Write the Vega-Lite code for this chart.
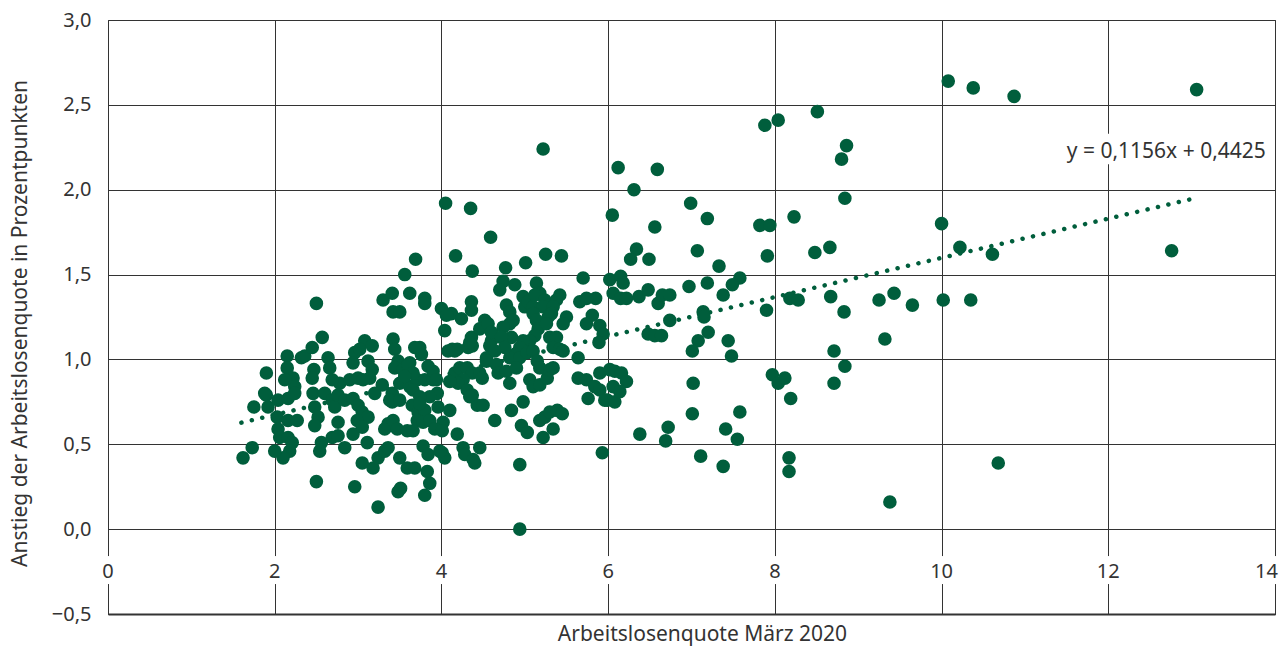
{
  "$schema": "https://vega.github.io/schema/vega-lite/v6.json",
  "width": 1167,
  "height": 594,
  "autosize": "none",
  "padding": {"left": 108, "top": 20, "right": 5, "bottom": 38},
  "background": "white",
  "config": {"font": "Noto Sans", "view": {"stroke": "#333333", "strokeWidth": 1}},
  "datasets": {
    "punkte": [
      {"x":1.62,"y":0.42},{"x":1.73,"y":0.48},{"x":1.75,"y":0.72},{"x":1.90,"y":0.92},{"x":1.90,"y":0.79},{"x":1.92,"y":0.72},{"x":1.88,"y":0.80},{"x":2.04,"y":0.76},{"x":2.03,"y":0.66},{"x":2.16,"y":0.64},{"x":2.27,"y":0.64},{"x":2.04,"y":0.59},{"x":2.06,"y":0.54},{"x":2.16,"y":0.54},{"x":2.18,"y":0.46},{"x":2.10,"y":0.42},{"x":2.00,"y":0.46},{"x":2.21,"y":0.51},{"x":2.15,"y":1.02},{"x":2.15,"y":0.95},{"x":2.32,"y":1.01},{"x":2.36,"y":1.02},{"x":2.45,"y":1.07},{"x":2.22,"y":0.89},{"x":2.24,"y":0.84},{"x":2.12,"y":0.88},{"x":2.16,"y":0.77},{"x":2.24,"y":0.80},{"x":2.47,"y":0.94},{"x":2.45,"y":0.89},{"x":2.46,"y":0.80},{"x":2.48,"y":0.72},{"x":2.52,"y":0.66},{"x":2.48,"y":0.61},{"x":2.50,"y":1.33},{"x":2.50,"y":0.28},{"x":2.57,"y":1.13},
      {"x":2.64,"y":1.01},{"x":2.66,"y":0.95},{"x":2.56,"y":0.51},{"x":2.54,"y":0.46},{"x":2.69,"y":0.54},{"x":2.76,"y":0.55},{"x":2.84,"y":0.48},{"x":2.76,"y":0.63},{"x":2.60,"y":0.80},{"x":2.69,"y":0.76},{"x":2.72,"y":0.72},{"x":2.78,"y":0.86},{"x":2.90,"y":0.88},{"x":3.00,"y":0.89},{"x":2.69,"y":0.88},{"x":2.76,"y":0.79},{"x":2.84,"y":0.76},{"x":2.94,"y":0.77},{"x":3.00,"y":0.73},{"x":3.05,"y":0.69},{"x":3.12,"y":0.66},{"x":2.96,"y":1.04},{"x":2.94,"y":0.98},{"x":3.08,"y":1.11},{"x":3.17,"y":1.08},{"x":3.12,"y":0.99},{"x":3.17,"y":0.94},{"x":3.14,"y":0.89},{"x":3.06,"y":0.88},{"x":2.99,"y":0.64},{"x":2.94,"y":0.56},{"x":3.05,"y":0.60},{"x":3.11,"y":0.51},{"x":3.05,"y":0.39},{"x":3.18,"y":0.36},{"x":3.24,"y":0.42},{"x":3.32,"y":0.46},{"x":3.36,"y":0.48},{"x":3.29,"y":0.85},{"x":3.41,"y":0.80},{"x":3.41,"y":0.75},{"x":3.30,"y":1.35},{"x":3.41,"y":1.39},{"x":3.42,"y":1.28},{"x":3.42,"y":1.12},{"x":3.44,"y":1.06},{"x":3.48,"y":0.99},{"x":2.96,"y":0.25},{"x":3.24,"y":0.13},{"x":3.48,"y":0.22},{"x":3.51,"y":0.24},{"x":3.32,"y":0.59},{"x":3.36,"y":0.62},{"x":3.02,"y":1.06},{"x":3.20,"y":0.80},
      {"x":3.44,"y":0.95},{"x":3.54,"y":0.94},{"x":3.62,"y":0.98},{"x":3.50,"y":0.86},{"x":3.62,"y":0.84},{"x":3.71,"y":0.88},{"x":3.66,"y":0.82},{"x":3.38,"y":0.76},{"x":3.50,"y":0.76},{"x":3.84,"y":0.96},{"x":3.80,"y":0.88},{"x":3.90,"y":0.88},{"x":3.95,"y":0.80},{"x":3.86,"y":0.78},{"x":3.65,"y":0.73},{"x":3.72,"y":0.69},{"x":3.80,"y":0.70},{"x":3.71,"y":0.64},{"x":3.78,"y":0.63},{"x":3.86,"y":0.64},{"x":3.96,"y":0.72},{"x":4.10,"y":0.70},{"x":4.02,"y":0.63},{"x":3.92,"y":0.59},{"x":4.01,"y":0.58},{"x":3.42,"y":0.64},{"x":3.47,"y":0.59},{"x":3.59,"y":0.58},{"x":3.66,"y":0.58},{"x":4.19,"y":0.56},{"x":3.78,"y":0.49},{"x":3.84,"y":0.44},{"x":3.50,"y":0.42},{"x":3.59,"y":0.36},{"x":3.68,"y":0.36},{"x":3.83,"y":0.34},{"x":3.86,"y":0.27},{"x":3.80,"y":0.20},{"x":4.01,"y":0.45},{"x":4.04,"y":0.42},{"x":4.26,"y":0.48},{"x":4.28,"y":0.44},{"x":4.40,"y":0.39},{"x":4.46,"y":0.48},{"x":4.16,"y":0.92},{"x":4.22,"y":0.95},{"x":4.31,"y":0.95},{"x":4.37,"y":0.92},{"x":4.26,"y":0.88},{"x":4.20,"y":0.86},{"x":4.31,"y":0.82},{"x":4.37,"y":0.79},{"x":4.43,"y":0.73},{"x":4.50,"y":0.73},{"x":4.46,"y":0.92},{"x":4.49,"y":0.89},{"x":3.90,"y":0.93},{"x":3.94,"y":0.88},{"x":3.60,"y":0.97},{"x":3.66,"y":0.92},{"x":3.56,"y":0.90},{"x":3.74,"y":0.78},{"x":3.74,"y":0.74},{"x":3.98,"y":0.46},{"x":4.10,"y":0.87},{"x":4.34,"y":0.78},{"x":4.38,"y":0.41},
      {"x":3.56,"y":1.50},{"x":3.69,"y":1.59},{"x":3.62,"y":1.39},{"x":3.80,"y":1.36},{"x":3.80,"y":1.33},{"x":3.50,"y":1.28},{"x":4.00,"y":1.30},{"x":4.12,"y":1.27},{"x":4.24,"y":1.24},{"x":4.36,"y":1.34},{"x":4.36,"y":1.29},{"x":4.04,"y":1.17},{"x":4.16,"y":1.05},{"x":4.13,"y":1.06},{"x":4.19,"y":1.06},{"x":4.37,"y":1.08},{"x":3.74,"y":1.07},{"x":3.76,"y":1.03},{"x":3.68,"y":1.07},{"x":4.05,"y":1.92},{"x":4.35,"y":1.89},{"x":4.59,"y":1.72},{"x":4.17,"y":1.61},{"x":4.37,"y":1.52},{"x":4.36,"y":1.13},{"x":4.32,"y":1.07},{"x":4.34,"y":1.10},{"x":4.52,"y":1.23},{"x":4.46,"y":1.18},{"x":4.06,"y":1.26},{"x":4.08,"y":1.05},
      {"x":4.60,"y":1.11},{"x":4.58,"y":1.08},{"x":4.56,"y":1.21},{"x":4.60,"y":1.16},{"x":4.54,"y":1.01},{"x":4.77,"y":1.54},{"x":5.01,"y":1.57},{"x":5.25,"y":1.62},{"x":5.44,"y":1.61},{"x":4.74,"y":1.46},{"x":4.88,"y":1.44},{"x":5.22,"y":2.24},{"x":4.70,"y":1.41},{"x":4.78,"y":1.32},{"x":4.82,"y":1.28},{"x":4.82,"y":1.21},{"x":4.86,"y":1.23},{"x":4.84,"y":1.13},{"x":4.98,"y":1.37},{"x":5.00,"y":1.31},{"x":5.04,"y":1.34},{"x":5.10,"y":1.31},{"x":5.14,"y":1.45},{"x":5.18,"y":1.39},{"x":5.12,"y":1.38},{"x":5.24,"y":1.35},{"x":5.22,"y":1.31},{"x":5.42,"y":1.38},{"x":5.38,"y":1.35},{"x":5.34,"y":1.31},{"x":5.32,"y":1.27},{"x":5.28,"y":1.25},{"x":5.50,"y":1.25},{"x":5.46,"y":1.21},{"x":5.10,"y":1.27},{"x":5.14,"y":1.23},{"x":5.16,"y":1.18},{"x":5.12,"y":1.14},{"x":5.06,"y":1.11},{"x":4.98,"y":1.11},{"x":4.94,"y":1.07},{"x":4.88,"y":1.03},{"x":4.82,"y":1.01},{"x":5.26,"y":1.21},{"x":5.30,"y":1.13},{"x":5.38,"y":1.13},{"x":5.34,"y":1.07},{"x":5.42,"y":1.06},{"x":5.46,"y":1.05},{"x":4.74,"y":1.19},{"x":4.72,"y":1.13},{"x":4.76,"y":1.07},{"x":4.64,"y":1.05},{"x":4.94,"y":1.01},{"x":5.03,"y":1.04},{"x":5.10,"y":1.05},{"x":5.64,"y":1.01},{"x":5.66,"y":1.34},{"x":5.70,"y":1.48},
      {"x":4.54,"y":0.99},{"x":4.66,"y":0.97},{"x":4.68,"y":0.92},{"x":4.78,"y":0.93},{"x":4.90,"y":0.95},{"x":5.15,"y":0.99},{"x":5.18,"y":0.95},{"x":5.06,"y":0.88},{"x":5.10,"y":0.84},{"x":5.18,"y":0.85},{"x":5.27,"y":0.89},{"x":5.30,"y":0.94},{"x":5.34,"y":0.95},{"x":4.82,"y":0.86},{"x":4.84,"y":0.70},{"x":4.98,"y":0.75},{"x":4.64,"y":0.64},{"x":4.96,"y":0.61},{"x":5.03,"y":0.57},{"x":5.18,"y":0.64},{"x":5.24,"y":0.66},{"x":5.30,"y":0.69},{"x":5.39,"y":0.70},{"x":5.45,"y":0.68},{"x":5.22,"y":0.54},{"x":5.34,"y":0.59},{"x":4.94,"y":0.38},{"x":4.94,"y":0.00},
      {"x":6.12,"y":2.13},{"x":6.59,"y":2.12},{"x":6.31,"y":2.00},{"x":6.05,"y":1.85},{"x":6.56,"y":1.78},{"x":6.34,"y":1.65},{"x":6.27,"y":1.59},{"x":6.49,"y":1.59},{"x":6.02,"y":1.47},{"x":6.15,"y":1.49},{"x":6.18,"y":1.45},{"x":5.85,"y":1.36},{"x":6.06,"y":1.39},{"x":6.15,"y":1.36},{"x":6.22,"y":1.36},{"x":6.37,"y":1.37},{"x":6.48,"y":1.41},{"x":6.60,"y":1.33},{"x":6.65,"y":1.38},{"x":6.74,"y":1.38},{"x":5.81,"y":1.26},{"x":5.90,"y":1.20},{"x":5.94,"y":1.15},{"x":5.89,"y":1.10},{"x":6.48,"y":1.15},{"x":6.56,"y":1.14},{"x":6.64,"y":1.14},{"x":6.74,"y":1.23},{"x":5.74,"y":1.36},{"x":5.74,"y":1.21},
      {"x":5.64,"y":0.89},{"x":5.74,"y":0.88},{"x":5.84,"y":0.84},{"x":5.76,"y":0.77},{"x":5.90,"y":0.82},{"x":5.96,"y":0.76},{"x":5.90,"y":0.92},{"x":6.02,"y":0.94},{"x":6.06,"y":0.84},{"x":5.99,"y":0.76},{"x":6.08,"y":0.75},{"x":6.08,"y":0.93},{"x":6.16,"y":0.92},{"x":6.22,"y":0.87},{"x":6.14,"y":0.81},{"x":5.93,"y":0.45},{"x":6.38,"y":0.56},{"x":6.72,"y":0.60},{"x":6.69,"y":0.52},
      {"x":6.99,"y":1.92},{"x":7.19,"y":1.83},{"x":7.07,"y":1.64},{"x":7.33,"y":1.55},{"x":7.58,"y":1.48},{"x":7.49,"y":1.44},{"x":7.19,"y":1.45},{"x":6.97,"y":1.43},{"x":7.38,"y":1.38},{"x":7.14,"y":1.28},{"x":7.15,"y":1.25},{"x":7.20,"y":1.16},{"x":7.08,"y":1.11},{"x":7.01,"y":1.05},{"x":7.44,"y":1.11},{"x":7.48,"y":1.02},{"x":7.02,"y":0.86},{"x":7.01,"y":0.68},{"x":7.58,"y":0.69},{"x":7.41,"y":0.59},{"x":7.55,"y":0.53},{"x":7.11,"y":0.43},{"x":7.38,"y":0.37},
      {"x":7.82,"y":1.79},{"x":7.94,"y":1.79},{"x":8.23,"y":1.84},{"x":7.91,"y":1.61},{"x":7.90,"y":1.29},{"x":8.18,"y":1.36},{"x":8.28,"y":1.35},{"x":7.97,"y":0.91},{"x":8.04,"y":0.86},{"x":8.12,"y":0.89},{"x":8.19,"y":0.77},{"x":8.17,"y":0.42},{"x":8.17,"y":0.34},{"x":7.88,"y":2.38},{"x":8.04,"y":2.41},{"x":8.51,"y":2.46},{"x":8.48,"y":1.63},{"x":8.66,"y":1.66},
      {"x":8.86,"y":2.26},{"x":8.80,"y":2.18},{"x":8.84,"y":1.95},{"x":8.67,"y":1.37},{"x":8.83,"y":1.28},{"x":9.25,"y":1.35},{"x":9.43,"y":1.39},{"x":9.65,"y":1.32},{"x":9.32,"y":1.12},{"x":8.71,"y":1.05},{"x":8.84,"y":0.96},{"x":8.71,"y":0.86},{"x":9.38,"y":0.16},
      {"x":10.08,"y":2.64},{"x":10.38,"y":2.60},{"x":10.87,"y":2.55},{"x":10.00,"y":1.80},{"x":10.22,"y":1.66},{"x":10.61,"y":1.62},{"x":10.02,"y":1.35},{"x":10.35,"y":1.35},{"x":10.68,"y":0.39},{"x":13.06,"y":2.59},{"x":12.76,"y":1.64}
    ],
    "trend": [{"x": 1.6, "y": 0.6275}, {"x": 13.05, "y": 1.951}],
    "ticks": [{"x": 0}, {"x": 2}, {"x": 4}, {"x": 6}, {"x": 8}, {"x": 10}, {"x": 12}, {"x": 14}]
  },
  "layer": [
    {
      "data": {"name": "trend"},
      "mark": {"type": "line", "color": "#005e3c", "strokeWidth": 4.5, "strokeDash": [0.1, 10.6], "strokeCap": "round"},
      "encoding": {
        "x": {
          "field": "x", "type": "quantitative",
          "scale": {"domain": [0, 14], "nice": false, "zero": false},
          "axis": {
            "values": [0, 2, 4, 6, 8, 10, 12, 14],
            "labels": false, "ticks": false,
            "domain": true, "domainColor": "#333333", "domainWidth": 2,
            "grid": true, "gridColor": "#333333", "gridOpacity": 1, "gridWidth": 1,
            "title": "Arbeitslosenquote März 2020",
            "titleFont": "Noto Sans", "titleFontSize": 21, "titleFontWeight": "normal", "titleColor": "#333333", "titlePadding": 9,
            "titleX": 594, "titleAlign": "center"
          }
        },
        "y": {
          "field": "y", "type": "quantitative",
          "scale": {"domain": [-0.5, 3], "nice": false, "zero": false},
          "axis": {
            "values": [-0.5, 0, 0.5, 1, 1.5, 2, 2.5, 3],
            "labelExpr": "replace(replace(format(datum.value, '.1f'), '.', ','), '-', '\u2212')",
            "labelFont": "Noto Sans", "labelFontSize": 20, "labelColor": "#333333", "labelPadding": 17,
            "ticks": false, "domain": false,
            "grid": true, "gridColor": "#333333", "gridOpacity": 1, "gridWidth": 1,
            "title": "Anstieg der Arbeitslosenquote in Prozentpunkten",
            "titleFont": "Noto Sans", "titleFontSize": 21, "titleFontWeight": "normal", "titleColor": "#333333",
            "titleX": -88, "titleY": 303, "titleBaseline": "middle"
          }
        }
      }
    },
    {
      "data": {"name": "punkte"},
      "mark": {"type": "circle", "size": 185, "color": "#005e3c", "opacity": 1},
      "encoding": {
        "x": {"field": "x", "type": "quantitative", "title": "Arbeitslosenquote März 2020"},
        "y": {"field": "y", "type": "quantitative", "title": "Anstieg der Arbeitslosenquote in Prozentpunkten"}
      }
    },
    {
      "data": {"name": "ticks"},
      "mark": {"type": "square", "size": 784, "color": "white", "opacity": 1, "filled": true},
      "encoding": {
        "x": {"field": "x", "type": "quantitative", "title": "Arbeitslosenquote März 2020"},
        "y": {"datum": -0.241}
      }
    },
    {
      "data": {"name": "ticks"},
      "transform": [{"filter": "datum.x < 14"}],
      "mark": {"type": "text", "font": "Noto Sans", "fontSize": 20, "color": "#333333", "baseline": "alphabetic", "align": "center"},
      "encoding": {
        "x": {"field": "x", "type": "quantitative", "title": "Arbeitslosenquote März 2020"},
        "y": {"datum": -0.288},
        "text": {"field": "x", "type": "quantitative", "format": "d"}
      }
    },
    {
      "data": {"name": "ticks"},
      "transform": [{"filter": "datum.x == 14"}],
      "mark": {"type": "text", "font": "Noto Sans", "fontSize": 20, "color": "#333333", "baseline": "alphabetic", "align": "right", "dx": 3},
      "encoding": {
        "x": {"field": "x", "type": "quantitative", "title": "Arbeitslosenquote März 2020"},
        "y": {"datum": -0.288},
        "text": {"field": "x", "type": "quantitative", "format": "d"}
      }
    },
    {
      "data": {"values": [{}]},
      "mark": {"type": "rect", "color": "white", "opacity": 1},
      "encoding": {
        "x": {"datum": 11.4}, "x2": {"datum": 13.92},
        "y": {"datum": 2.15}, "y2": {"datum": 2.33}
      }
    },
    {
      "data": {"values": [{"t": "y = 0,1156x + 0,4425"}]},
      "mark": {"type": "text", "font": "Noto Sans", "fontSize": 21, "color": "#333333", "baseline": "alphabetic", "align": "right"},
      "encoding": {
        "x": {"datum": 13.89},
        "y": {"datum": 2.188},
        "text": {"field": "t"}
      }
    }
  ]
}
